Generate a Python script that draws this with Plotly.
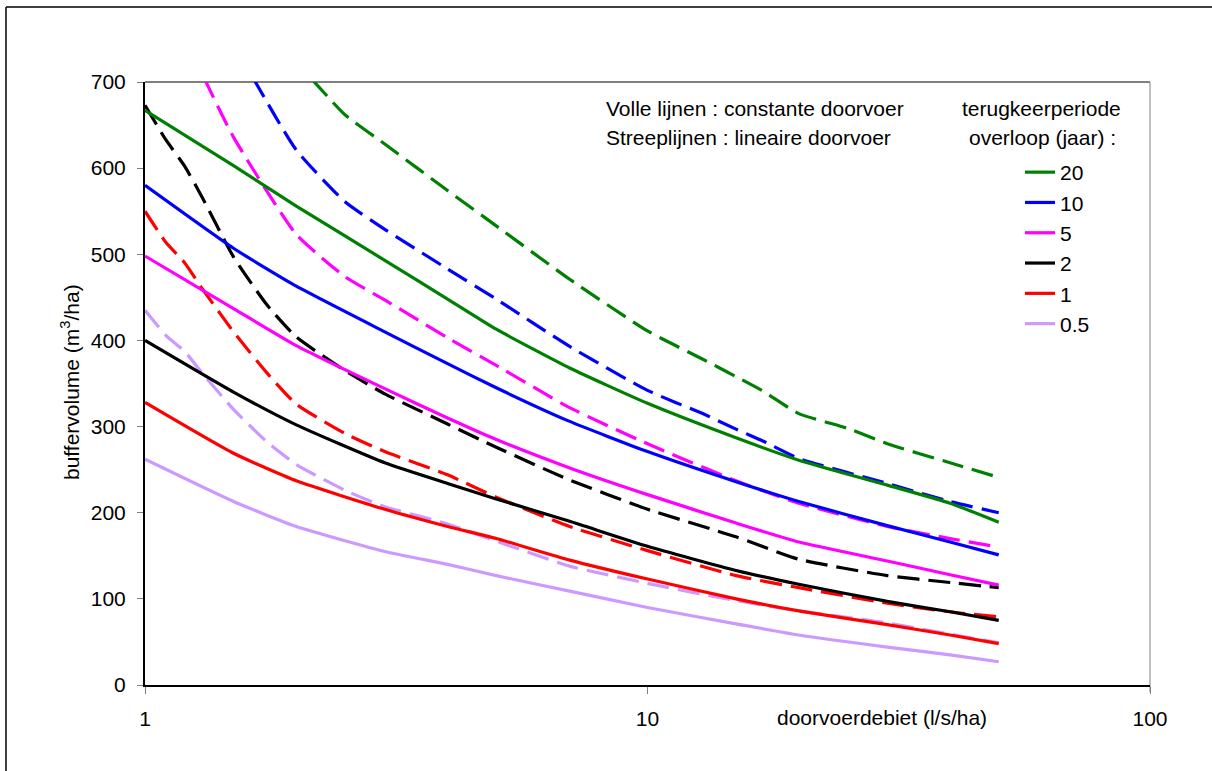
import plotly.graph_objects as go

# ---------------- data ----------------
periods = ["20", "10", "5", "2", "1", "0.5"]
colors = ["#008000", "#0000FF", "#FF00FF", "#000000", "#FF0000", "#CC99FF"]

# constant throughput (solid lines)
q_solid = [1, 1.5, 2, 3, 4, 5, 7, 10, 15, 20, 30, 40, 50]
solid_20 = [667, 603, 556, 493, 448, 413, 368, 327, 287, 261, 232, 211, 189]
solid_10 = [580, 507, 463, 410, 373, 345, 306, 271, 236, 213, 185, 166, 151]
solid_5 = [498, 437, 394, 344, 310, 285, 252, 221, 188, 166, 144, 128, 116]
solid_2 = [400, 340, 302, 258, 234, 216, 190, 161, 133, 117, 97, 85, 75]
solid_1 = [328, 269, 237, 204, 184, 170, 145, 123, 100, 86, 70, 58, 48]
solid_05 = [262, 213, 184, 155, 140, 127, 109, 90, 71, 58, 44, 35, 27]

# linear throughput (dashed lines)
q_dash_20 = [2.15, 2.5, 3, 4, 5, 7, 10, 13, 15, 17, 20, 25, 30, 40, 50]
dash_20 = [703, 662, 628, 574, 533, 471, 411, 377, 358, 341, 315, 298, 280, 258, 241]
q_dash_10 = [1.64, 2, 2.5, 3, 4, 5, 7, 10, 13, 15, 17, 20, 30, 40, 50]
dash_10 = [705, 621, 561, 529, 483, 448, 393, 342, 314, 297, 283, 263, 234, 213, 200]
q_dash_5 = [1.31, 1.5, 2, 2.5, 3, 4, 5, 7, 10, 15, 20, 30, 40, 50]
dash_5 = [705, 636, 523, 474, 447, 403, 371, 322, 280, 237, 211, 184, 170, 160]
q_dash_low = [1, 1.1, 1.2, 1.3, 1.5, 1.75, 2, 2.5, 3, 4, 5, 7, 10, 15, 20, 30, 40, 50]
dash_2 = [673, 633, 602, 566, 497, 441, 404, 365, 338, 303, 276, 238, 204, 172, 146, 127, 119, 113]
dash_1 = [550, 514, 490, 460, 410, 362, 326, 292, 271, 244, 218, 184, 156, 127, 113, 95, 85, 79]
dash_05 = [435, 406, 387, 362, 320, 282, 256, 226, 207, 187, 167, 138, 118, 98, 86, 72, 59, 49]

x_tickvals = [1, 10, 100]
x_ticktext = ["1", "10", "100"]
y_tickvals = [0, 100, 200, 300, 400, 500, 600, 700]

solid_series = [solid_20, solid_10, solid_5, solid_2, solid_1, solid_05]
dash_series = [
    (q_dash_20, dash_20), (q_dash_10, dash_10), (q_dash_5, dash_5),
    (q_dash_low, dash_2), (q_dash_low, dash_1), (q_dash_low, dash_05),
]

# ---------------- figure ----------------
W, H = 1212, 771
ML, MR, MT, MB = 145, 62, 82, 86
PW, PH = W - ML - MR, H - MT - MB
FONT = "Liberation Sans, Arial, sans-serif"
FS = 21

fig = go.Figure()

for (qx, vals), col, name in zip(dash_series, colors, periods):
    fig.add_trace(go.Scatter(
        x=qx, y=vals, mode="lines", name=name + " (lineair)", showlegend=False,
        line=dict(color=col, width=3.2, dash="22px,9px", shape="spline", smoothing=0.5),
        hoverinfo="skip",
    ))

for vals, col, name in zip(solid_series, colors, periods):
    fig.add_trace(go.Scatter(
        x=q_solid, y=vals, mode="lines", name=name, showlegend=True,
        line=dict(color=col, width=3.2, shape="spline", smoothing=0.5),
    ))

def fx(p):
    return (p - ML) / PW

def fy(p):
    return (H - MB - p) / PH

fig.update_layout(
    width=W, height=H,
    margin=dict(l=ML, r=MR, t=MT, b=MB),
    paper_bgcolor="white", plot_bgcolor="white",
    font=dict(family=FONT, size=FS, color="black"),
    showlegend=True,
    legend=dict(
        x=fx(1020), xanchor="left",
        y=fy(152), yanchor="top",
        bgcolor="rgba(0,0,0,0)", borderwidth=0,
        font=dict(family=FONT, size=FS, color="black"),
        tracegroupgap=0, itemwidth=30,
    ),
    xaxis=dict(
        type="log", range=[0, 2],
        tickvals=x_tickvals, ticktext=x_ticktext,
        ticks="outside", ticklen=7, tickwidth=1, tickcolor="#808080",
        showline=True, linecolor="black", linewidth=2,
        showgrid=False, zeroline=False,
        ticklabelstandoff=7,
        tickfont=dict(family=FONT, size=FS, color="black"),
    ),
    yaxis=dict(
        range=[0, 700],
        tickvals=y_tickvals,
        ticks="outside", ticklen=6, tickwidth=1, tickcolor="#808080",
        showline=True, linecolor="black", linewidth=2,
        showgrid=False, zeroline=False,
        ticklabelstandoff=7,
        tickfont=dict(family=FONT, size=FS, color="black"),
    ),
    shapes=[
        dict(type="line", xref="paper", yref="paper", x0=0, x1=1, y0=1, y1=1,
             line=dict(color="#808080", width=2), layer="below"),
        dict(type="line", xref="paper", yref="paper", x0=1, x1=1, y0=fy(692), y1=1,
             line=dict(color="#808080", width=1), layer="below"),
        dict(type="line", xref="paper", yref="paper",
             x0=fx(6), x1=fx(W), y0=fy(7), y1=fy(7),
             line=dict(color="black", width=1.5)),
        dict(type="line", xref="paper", yref="paper",
             x0=fx(6), x1=fx(6), y0=fy(7), y1=fy(H),
             line=dict(color="black", width=1.5)),
    ],
)

def ann(text, x, y, xanchor="left", textangle=0):
    fig.add_annotation(
        text=text, xref="paper", yref="paper",
        x=fx(x), y=fy(y),
        xanchor=xanchor, yanchor="middle", showarrow=False,
        textangle=textangle, font=dict(family=FONT, size=FS, color="black"),
    )

ann("Volle lijnen : constante doorvoer", 604, 108)
ann("Streeplijnen : lineaire doorvoer", 604, 137)
ann("terugkeerperiode", 1041, 108, xanchor="center")
ann("overloop (jaar) :", 1042, 137, xanchor="center")
ann("doorvoerdebiet (l/s/ha)", 882, 717, xanchor="center")
ann("buffervolume (m<sup>3</sup>/ha)", 70, 382, xanchor="center", textangle=-90)

fig.write_html(
    "out.html",
    config={"displayModeBar": False},
    post_script="document.body.style.margin='0px';",
)
